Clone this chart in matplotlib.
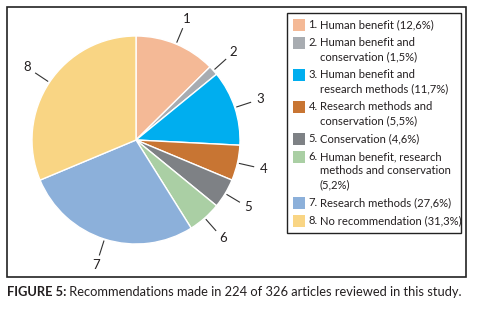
import numpy as np
import matplotlib.pyplot as plt
from matplotlib.patches import Rectangle

# data
numbers = ['1', '2', '3', '4', '5', '6', '7', '8']
shares = [12.6, 1.5, 11.7, 5.5, 4.6, 5.2, 27.6, 31.3]
legend_text = [
    ['Human benefit (12,6%)'],
    ['Human benefit and', 'conservation (1,5%)'],
    ['Human benefit and', 'research methods (11,7%)'],
    ['Research methods and', 'conservation (5,5%)'],
    ['Conservation (4,6%)'],
    ['Human benefit, research', 'methods and conservation', '(5,2%)'],
    ['Research methods (27,6%)'],
    ['No recommendation (31,3%)'],
]
colors = ['#F4B996', '#A8ACB1', '#00AEEF', '#C87533',
          '#7E8185', '#AACFA4', '#8CB0DA', '#F9D584']
caption_bold = 'FIGURE 5:'
caption_rest = ' Recommendations made in 224 of 326 articles reviewed in this study.'

W, H = 480, 311
FONT = 'Lato'
TXT = '#231F20'

fig = plt.figure(figsize=(W / 100, H / 100), dpi=100)

# overlay in pixel coordinates (y down)
ov = fig.add_axes([0, 0, 1, 1])
ov.set_xlim(0, W)
ov.set_ylim(H, 0)
ov.axis('off')

# outer frame
ov.add_patch(Rectangle((7, 7), 459, 270, fill=False, ec='#222222', lw=1.2))

# pie
cx, cy, R = 136, 140, 104
pax = fig.add_axes([(cx - R) / W, (H - cy - R) / H, 2 * R / W, 2 * R / H])
wedges, _ = pax.pie(shares, colors=colors, startangle=90, counterclock=False,
                    wedgeprops=dict(edgecolor='white', linewidth=1.0))
pax.set_xlim(-1, 1)
pax.set_ylim(-1, 1)
pax.set_aspect('equal')

for w, num in zip(wedges, numbers):
    mid = np.deg2rad((w.theta1 + w.theta2) / 2)
    c, s = np.cos(mid), np.sin(mid)
    pax.plot([1.02 * c, 1.16 * c], [1.02 * s, 1.16 * s], color='#333333',
             lw=0.8, clip_on=False)
    pax.text(1.26 * c, 1.26 * s, num, ha='center', va='center',
             fontsize=9.5, family=FONT, color=TXT, clip_on=False)

# legend box
ov.add_patch(Rectangle((287, 13), 174, 220, fill=False, ec='#222222', lw=1.0))
y = 25
line_h, gap = 14, 4
for i, lines in enumerate(legend_text):
    ov.add_patch(Rectangle((293, y - 6), 12, 12, color=colors[i], lw=0))
    ov.text(308.5, y, numbers[i] + '.', ha='left', va='center', fontsize=8.1,
            family=FONT, color=TXT)
    for j, ln in enumerate(lines):
        ov.text(320, y + j * line_h, ln, ha='left', va='center', fontsize=8.1,
                family=FONT, color=TXT)
    y += len(lines) * line_h + gap

# caption
t = ov.text(7, 292, caption_bold, ha='left', va='center', fontsize=9.3,
            family=FONT, weight='bold', color=TXT)
fig.canvas.draw()
bb = t.get_window_extent()
ov.annotate(caption_rest, xy=(bb.x1 / W, 1 - 292 / H), xycoords='figure fraction',
            ha='left', va='center', fontsize=9.3, family=FONT, color=TXT)

fig.savefig('out.png', dpi=100)
